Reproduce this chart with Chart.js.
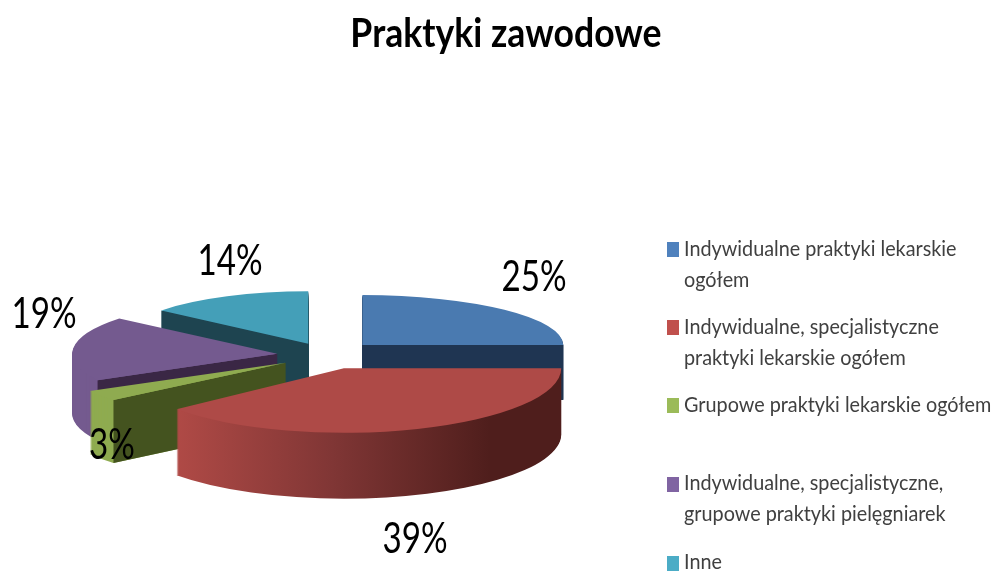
<!DOCTYPE html>
<html><head><meta charset="utf-8">
<style>html,body{margin:0;padding:0;background:#fff}canvas{display:block;filter:blur(0.5px)}</style>
<script src="https://cdn.jsdelivr.net/npm/chart.js@4"></script>
</head><body><canvas id="c" width="994" height="572"></canvas>
<script>
const chartTitle = 'Praktyki zawodowe';
const categories = [
  'Indywidualne praktyki lekarskie ogółem',
  'Indywidualne, specjalistyczne praktyki lekarskie ogółem',
  'Grupowe praktyki lekarskie ogółem',
  'Indywidualne, specjalistyczne, grupowe praktyki pielęgniarek',
  'Inne'
];
const legendLines = [
  ['Indywidualne praktyki lekarskie', 'ogółem'],
  ['Indywidualne, specjalistyczne', 'praktyki lekarskie ogółem'],
  ['Grupowe praktyki lekarskie ogółem'],
  ['Indywidualne, specjalistyczne,', 'grupowe praktyki pielęgniarek'],
  ['Inne']
];
const values = [25, 39, 3, 19, 14];
const swatchColors = ['#4f81bd', '#c0504d', '#9bbb59', '#8064a2', '#4bacc6'];
const topColors = ['#4a7ab0', '#ae4a47', '#8fab50', '#745a8f', '#449fb8'];
const outerWall = ['#1f3552', null, '#8fab50', '#745a8f', '#1e4450'];
const innerWall = ['#1f3552', null, '#44531f', '#3a2745', '#1e4450'];
const wallEdge = ['end', null, 'start', 'start', 'start'];
const explode = [50, 50, 50, 50, 44];
const radiusScale = [0.98, 1.06, 1.09, 1.0, 0.93];
const tilt = [0.244, 0.315, 0.285, 0.27, 0.256];
const depth = [55, 66, 63, 60, 55];
const drawOrder = [4, 0, 3, 2, 1];
const labelX = [534, 415, 112, 44, 230];
const labelY = [291, 553, 459, 328, 275];
const legendY = [[256, 287], [334, 365], [412], [490, 521], [569]];
const swatchY = [242, 320, 398, 477, 556];

const PIE = {x: 327, y: 355, k: 0.28, r: 205};

function drawText(ctx, t, x, y, font, color, sx, align) {
  ctx.save();
  ctx.font = font; ctx.fillStyle = color; ctx.textAlign = align; ctx.textBaseline = 'alphabetic';
  ctx.translate(x, y); ctx.scale(sx, 1);
  ctx.fillText(t, 0, 0);
  ctx.restore();
}

const pie3d = {
  id: 'pie3d',
  beforeDatasetDraw(chart) {
    const ctx = chart.ctx, arcs = chart.getDatasetMeta(0).data;
    const place = (el, i, dy) => {
      const mid = (el.startAngle + el.endAngle) / 2, v = explode[i];
      const sx = PIE.x + Math.cos(mid) * v, sy = PIE.y + Math.sin(mid) * v * PIE.k;
      ctx.translate(sx, sy + dy);
      ctx.scale(radiusScale[i], tilt[i]);
      ctx.translate(-el.x, -el.y);
      return {sx, sy};
    };
    drawOrder.forEach(i => {
      const el = arcs[i];
      let fill = outerWall[i];
      if (i === 1) {
        fill = ctx.createLinearGradient(175, 0, 490, 0);
        fill.addColorStop(0, '#b04a46');
        fill.addColorStop(0.5, '#803635');
        fill.addColorStop(1, '#4f1e1c');
      }
      for (let d = depth[i]; d >= 1; d--) {
        ctx.save();
        place(el, i, d);
        ctx.beginPath();
        ctx.moveTo(el.x, el.y);
        ctx.arc(el.x, el.y, el.outerRadius, el.startAngle, el.endAngle);
        ctx.closePath();
        ctx.restore();
        ctx.fillStyle = fill;
        ctx.fill();
      }
      if (wallEdge[i]) {
        const a = wallEdge[i] === 'end' ? el.endAngle : el.startAngle;
        ctx.save();
        const p = place(el, i, 0);
        ctx.restore();
        const cx = p.sx + Math.cos(a) * el.outerRadius * radiusScale[i];
        const cy = p.sy + Math.sin(a) * el.outerRadius * tilt[i];
        ctx.beginPath();
        ctx.moveTo(p.sx, p.sy); ctx.lineTo(cx, cy);
        ctx.lineTo(cx, cy + depth[i]); ctx.lineTo(p.sx, p.sy + depth[i]);
        ctx.closePath();
        ctx.fillStyle = innerWall[i];
        ctx.fill();
      }
      ctx.save();
      place(el, i, 0);
      el.draw(ctx);
      ctx.restore();
    });
    return false;
  },
  afterDraw(chart) {
    const ctx = chart.ctx;
    drawText(ctx, chartTitle, 506, 47, 'bold 40px Lato', '#000', 0.89, 'center');
    values.forEach((v, i) => drawText(ctx, v + '%', labelX[i], labelY[i], '42px Lato', '#000', 0.79, 'center'));
    legendLines.forEach((lines, i) => {
      ctx.fillStyle = swatchColors[i];
      ctx.fillRect(667, swatchY[i], 12, 15);
      lines.forEach((t, j) => drawText(ctx, t, 684, legendY[i][j], '22px Lato', '#404040', 0.9, 'left'));
    });
  }
};

new Chart(document.getElementById('c'), {
  type: 'pie',
  data: {
    labels: categories,
    datasets: [{
      data: values,
      backgroundColor: topColors,
      borderWidth: 0,
      offset: 0,
      hoverOffset: 0
    }]
  },
  options: {
    responsive: false,
    animation: false,
    radius: PIE.r,
    layout: {padding: 0},
    events: [],
    plugins: {legend: {display: false}, title: {display: false}, tooltip: {enabled: false}}
  },
  plugins: [pie3d]
});
</script></body></html>
